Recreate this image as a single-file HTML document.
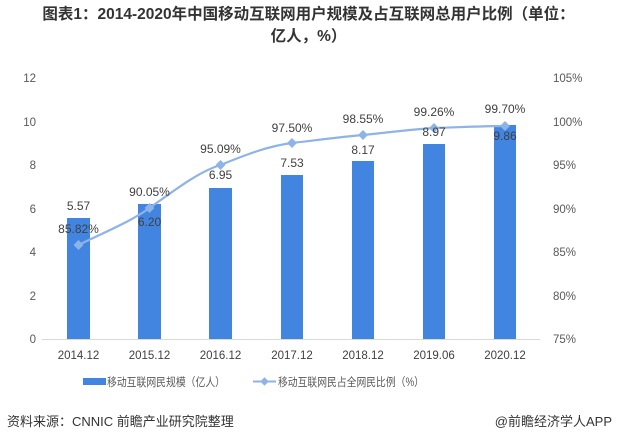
<!DOCTYPE html>
<html><head><meta charset="utf-8"><style>
body{margin:0;background:#fff;width:617px;height:442px;overflow:hidden;font-family:"Liberation Sans","Noto Sans CJK SC",sans-serif;}
.t{position:absolute;left:0;width:617px;text-align:center;font-weight:bold;font-size:15.5px;color:#333;line-height:22px;}
</style></head><body>
<div class="t" style="top:4px">图表1：2014-2020年中国移动互联网用户规模及占互联网总用户比例（单位：<br>亿人，%）</div>
<svg width="617" height="442" style="position:absolute;left:0;top:0" font-family="Liberation Sans, Noto Sans CJK SC, sans-serif">
<g fill="#595959" font-size="11.5" text-anchor="end">
<text x="36" y="82">12</text><text x="36" y="126">10</text><text x="36" y="169">8</text><text x="36" y="213">6</text><text x="36" y="256">4</text><text x="36" y="300">2</text><text x="36" y="343">0</text>
</g>
<g fill="#595959" font-size="11.5" text-anchor="start">
<text x="553" y="82">105%</text><text x="553" y="126">100%</text><text x="553" y="169">95%</text><text x="553" y="213">90%</text><text x="553" y="256">85%</text><text x="553" y="300">80%</text><text x="553" y="343">75%</text>
</g>
<line x1="42" y1="339.5" x2="540" y2="339.5" stroke="#d9d9d9"/>
<g fill="#4285e0">
<rect x="67" y="218" width="23" height="121"/>
<rect x="138" y="204" width="23" height="135"/>
<rect x="209" y="188" width="23" height="151"/>
<rect x="281" y="175" width="22" height="164"/>
<rect x="352" y="161" width="22" height="178"/>
<rect x="423" y="144" width="22" height="195"/>
<rect x="494" y="125" width="22" height="214"/>
</g>
<path d="M78.5,245 C105,232 130,222 149.5,208 C175,190 198,172 220.5,165 C245,155 268,146 292,143 C318,140 340,137 363,135 C392,132 415,129 434,128 C465,127 485,126 505,126" fill="none" stroke="#8db3e8" stroke-width="2.2"/>
<g fill="#8db3e8">
<rect x="-3.5" y="-3.5" width="7" height="7" transform="translate(78.5,245) rotate(45)"/>
<rect x="-3.5" y="-3.5" width="7" height="7" transform="translate(149.5,208) rotate(45)"/>
<rect x="-3.5" y="-3.5" width="7" height="7" transform="translate(220.5,165) rotate(45)"/>
<rect x="-3.5" y="-3.5" width="7" height="7" transform="translate(292,143) rotate(45)"/>
<rect x="-3.5" y="-3.5" width="7" height="7" transform="translate(363,135) rotate(45)"/>
<rect x="-3.5" y="-3.5" width="7" height="7" transform="translate(434,128) rotate(45)"/>
<rect x="-3.5" y="-3.5" width="7" height="7" transform="translate(505,126) rotate(45)"/>
</g>
<g fill="#404040" font-size="12" text-anchor="middle">
<text x="78.5" y="210">5.57</text><text x="78.5" y="233">85.82%</text>
<text x="149.5" y="196">90.05%</text><text x="149.5" y="226">6.20</text>
<text x="220.5" y="153">95.09%</text><text x="220.5" y="179">6.95</text>
<text x="292" y="132">97.50%</text><text x="292" y="167">7.53</text>
<text x="363" y="123">98.55%</text><text x="363" y="154">8.17</text>
<text x="434" y="116">99.26%</text><text x="434" y="136">8.97</text>
<text x="505" y="113">99.70%</text><text x="505" y="140">9.86</text>
</g>
<g fill="#404040" font-size="11.5" text-anchor="middle">
<text x="78.5" y="359">2014.12</text><text x="149.5" y="359">2015.12</text><text x="220.5" y="359">2016.12</text><text x="292" y="359">2017.12</text><text x="363" y="359">2018.12</text><text x="434" y="359">2019.06</text><text x="505" y="359">2020.12</text>
</g>
<rect x="83" y="378" width="23" height="7" fill="#4285e0"/>
<text x="107" y="386" font-size="11.5" fill="#595959" textLength="118" lengthAdjust="spacingAndGlyphs">移动互联网民规模（亿人）</text>
<line x1="253" y1="381.5" x2="276" y2="381.5" stroke="#8db3e8" stroke-width="2"/>
<rect x="-3" y="-3" width="6" height="6" fill="#8db3e8" transform="translate(264.5,381.5) rotate(45)"/>
<text x="278" y="386" font-size="11.5" fill="#595959" textLength="146" lengthAdjust="spacingAndGlyphs">移动互联网民占全网民比例（%）</text>
<text x="7" y="426" font-size="13" fill="#333">资料来源：CNNIC 前瞻产业研究院整理</text>
<text x="612" y="426" font-size="13" fill="#333" text-anchor="end">@前瞻经济学人APP</text>
</svg>
</body></html>
